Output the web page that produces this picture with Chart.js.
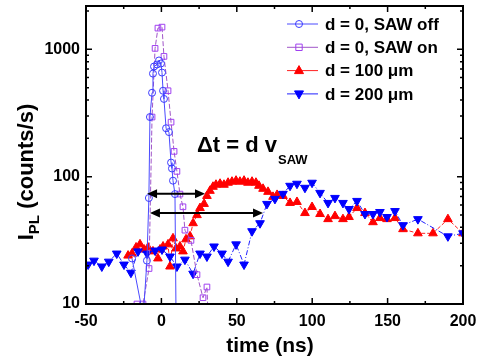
<!DOCTYPE html>
<html>
<head>
<meta charset="utf-8">
<script src="https://cdn.jsdelivr.net/npm/chart.js@4.4.0/dist/chart.umd.min.js"></script>
<style>
html, body { margin: 0; padding: 0; background: #fff; }
</style>
</head>
<body>
<canvas id="myChart" width="486" height="363"></canvas>
<script>
'use strict'
// values
let offTime = [-19.5, -12, -9.6, -8.3, -7.6, -6.2, -5.6, -4.9, -2.9, -1.6, -0.3, 0.4, 1.1, 1.7, 3.1, 5.0, 6.4, 7.0, 7.7, 9.0, 9.7];
let offCounts = [22.8, 8, 21.9, 68, 294, 456, 645, 733, 760, 818, 774, 657, 473, 408, 240, 224, 129, 116, 93, 73, 8];

let onTime = [-16.2, -12.2, -8.2, -6.2, -4.2, -2.3, 0.4, 1.7, 4.4, 6.4, 8.4, 10.3, 12.3, 14.3, 15.6, 19.6, 23.6, 27.6, 30.2, 30.8];
let onCounts = [10, 10, 19, 294, 1018, 1468, 1495, 880, 473, 268, 158, 110, 73, 58, 38, 31.6, 17, 11.2, 13.6, 9];

let redTime = [-22.1, -19.5, -16.8, -14.2, -11.5, -8.9, -5.6, -2.3, -0.9, 1.1, 4.4, 5.7, 7.7, 9.7, 12.3, 14.3, 16.3, 19.0, 21.0, 23.6,
  25.6, 28.3, 30.2, 32.2, 34.2, 36.2, 38.9, 41.5, 44.2, 46.8, 49.5, 52.1, 54.8, 57.4, 60.1, 62.7, 64.7, 67.4, 70.7, 74.0,
  76.7, 80.6, 85.3, 89.9, 95.2, 99.9, 105.2, 110.5, 115.1, 120.4, 124.4, 129.7, 135.0, 140.3, 144.9, 149.6, 154.9, 160.2, 170.1, 180.1,
  190.0, 200];
let redCounts = [24.0, 24.9, 27.8, 29.4, 26.8, 27.8, 25.9, 22.8, 26.8, 28.3, 29.4, 19.7, 32.8, 27.3, 28.3, 25.9, 32.2, 34.0, 43.1, 49.9,
  56.7, 61.1, 70.6, 77.4, 83.3, 86.4, 88.0, 86.4, 89.6, 91.3, 93.0, 91.3, 93.0, 89.6, 91.3, 89.6, 84.8, 80.3, 76.0, 69.4,
  71.9, 70.6, 62.2, 63.3, 51.8, 57.8, 50.9, 46.4, 49.0, 46.4, 48.2, 56.7, 51.8, 43.9, 47.3, 46.4, 47.3, 38.7, 35.9, 35.9,
  46.4, 35.9];

let blueTime = [-48.6, -44.7, -39.5, -34.9, -29.6, -24.8, -20.2, -15.5, -9.5, -4.2, 0.4, 5.7, 10.3, 15.6, 21.0, 25.6, 30.2, 34.9, 40.2, 44.2,
  49.5, 54.8, 60.1, 65.4, 70.0, 75.3, 80.6, 85.3, 89.9, 95.2, 99.9, 105.2, 110.5, 115.1, 120.4, 124.4, 129.7, 135.0, 140.3, 144.9,
  149.6, 154.9, 160.2, 170.1, 190.0, 200];
let blueCounts = [20.4, 21.9, 19.7, 21.5, 24.9, 20.4, 17.6, 25.9, 24.9, 26.3, 26.8, 23.6, 19.7, 22.3, 17.3, 24.9, 23.6, 28.3, 24.9, 21.5,
  29.4, 20.4, 37.3, 43.1, 61.1, 66.9, 73.3, 84.8, 88.0, 81.8, 89.6, 74.6, 62.2, 68.1, 62.2, 55.7, 64.5, 50.9, 50.9, 52.8,
  48.2, 53.7, 41.6, 46.4, 34.0, 35.9];

let seriesNames = ['d = 0, SAW off', 'd = 0, SAW on', 'd = 100 \u03bcm', 'd = 200 \u03bcm'];

let xMajor = [-50, 0, 50, 100, 150, 200];
let xMinor = [-25, 25, 75, 125, 175];
let yMajor = [10, 100, 1000];
let yMinor = [20, 30, 40, 50, 60, 70, 80, 90, 200, 300, 400, 500, 600, 700, 800, 900, 2000];

// the two delta-t arrows: [start time, end time, counts level]
let arrowShort = [-9.5, 28.9, 73.3];
let arrowLong = [-7.6, 67.4, 51.8];

const FONT = "'Liberation Sans', Arial, sans-serif";

function pts(t, v) {
  let out = [];
  for (let i = 0; i < t.length; i++) out.push({x: t[i], y: v[i]});
  return out;
}

let allSets = [
  {label: seriesNames[0], data: pts(offTime, offCounts), borderColor: '#4a4aff', pointBorderColor: '#3b3bff',
    pointBackgroundColor: 'rgba(0,0,0,0)', pointStyle: 'circle', pointRadius: 3.5, borderWidth: 1, pointBorderWidth: 1, borderDash: [], order: 0},
  {label: seriesNames[1], data: pts(onTime, onCounts), borderColor: '#a055c8', pointBorderColor: '#a040f0',
    pointBackgroundColor: 'rgba(0,0,0,0)', pointStyle: 'rect', pointRadius: 4, borderWidth: 1, pointBorderWidth: 1, borderDash: [5, 2], order: 1},
  {label: seriesNames[2], data: pts(redTime, redCounts), borderColor: '#ff2020', pointBorderColor: '#ff0000',
    pointBackgroundColor: '#ff0000', pointStyle: 'triangle', pointRadius: 5, borderWidth: 1, pointBorderWidth: 1, borderDash: [4, 2], order: 3},
  {label: seriesNames[3], data: pts(blueTime, blueCounts), borderColor: '#2020ff', pointBorderColor: '#0000ff',
    pointBackgroundColor: '#0000ff', pointStyle: 'triangle', pointRotation: 180, pointRadius: 5, borderWidth: 1, pointBorderWidth: 1, borderDash: [5, 2, 1, 2], order: 2}
];

function drawMarker(ctx, ds, x, y) {
  ctx.save();
  ctx.fillStyle = ds.pointBackgroundColor;
  ctx.strokeStyle = ds.pointBorderColor;
  ctx.lineWidth = 1;
  ctx.setLineDash([]);
  let r = ds.pointRadius;
  ctx.beginPath();
  if (ds.pointStyle === 'circle') {
    ctx.arc(x, y, r, 0, Math.PI * 2);
  } else if (ds.pointStyle === 'rect') {
    ctx.rect(x - r * 0.8, y - r * 0.8, r * 1.6, r * 1.6);
  } else {
    let s = ds.pointRotation ? -1 : 1;
    ctx.moveTo(x, y - s * r);
    ctx.lineTo(x + r * 0.9, y + s * r * 0.6);
    ctx.lineTo(x - r * 0.9, y + s * r * 0.6);
    ctx.closePath();
  }
  ctx.fill();
  ctx.stroke();
  ctx.restore();
}

function arrow(ctx, x1, x2, y) {
  ctx.beginPath();
  ctx.moveTo(x1 + 4, y);
  ctx.lineTo(x2 - 4, y);
  ctx.stroke();
  ctx.beginPath();
  ctx.moveTo(x1, y); ctx.lineTo(x1 + 10, y - 4.5); ctx.lineTo(x1 + 10, y + 4.5); ctx.closePath();
  ctx.moveTo(x2, y); ctx.lineTo(x2 - 10, y - 4.5); ctx.lineTo(x2 - 10, y + 4.5); ctx.closePath();
  ctx.fill();
}

const decor = {
  id: 'decor',
  afterDatasetsDraw(chart) {
    const ctx = chart.ctx;
    const a = chart.chartArea;
    const x = chart.scales.x;
    const y = chart.scales.y;
    ctx.save();
    ctx.strokeStyle = '#000';
    ctx.fillStyle = '#000';

    // arrows
    ctx.lineWidth = 2;
    arrow(ctx, x.getPixelForValue(arrowShort[0]), x.getPixelForValue(arrowShort[1]), y.getPixelForValue(arrowShort[2]));
    arrow(ctx, x.getPixelForValue(arrowLong[0]), x.getPixelForValue(arrowLong[1]), y.getPixelForValue(arrowLong[2]));

    // frame
    ctx.lineWidth = 2;
    ctx.strokeRect(a.left, a.top, a.right - a.left, a.bottom - a.top);

    // inward ticks
    ctx.lineWidth = 1.5;
    ctx.beginPath();
    xMajor.forEach(v => { let p = x.getPixelForValue(v); ctx.moveTo(p, a.bottom); ctx.lineTo(p, a.bottom - 6); ctx.moveTo(p, a.top); ctx.lineTo(p, a.top + 6); });
    xMinor.forEach(v => { let p = x.getPixelForValue(v); ctx.moveTo(p, a.bottom); ctx.lineTo(p, a.bottom - 3); ctx.moveTo(p, a.top); ctx.lineTo(p, a.top + 3); });
    yMajor.forEach(v => { let p = y.getPixelForValue(v); ctx.moveTo(a.left, p); ctx.lineTo(a.left + 6, p); ctx.moveTo(a.right, p); ctx.lineTo(a.right - 6, p); });
    yMinor.forEach(v => { let p = y.getPixelForValue(v); ctx.moveTo(a.left, p); ctx.lineTo(a.left + 3, p); ctx.moveTo(a.right, p); ctx.lineTo(a.right - 3, p); });
    ctx.stroke();

    // formula
    ctx.textBaseline = 'alphabetic';
    ctx.textAlign = 'left';
    ctx.font = 'bold 22px ' + FONT;
    ctx.fillText('\u0394t = d v', 197, 152);
    ctx.font = 'bold 13px ' + FONT;
    ctx.fillText('SAW', 278, 164);

    // legend
    ctx.font = 'bold 17px ' + FONT;
    ctx.textBaseline = 'middle';
    chart.data.datasets.forEach((ds, i) => {
      let ly = 24 + i * 23.3;
      ctx.save();
      ctx.strokeStyle = ds.borderColor;
      ctx.lineWidth = 1;
      ctx.beginPath();
      ctx.moveTo(287, ly); ctx.lineTo(318, ly);
      ctx.stroke();
      ctx.restore();
      drawMarker(ctx, ds, 299, ly);
      ctx.fillStyle = '#000';
      ctx.fillText(ds.label, 325, ly + 1);
    });

    // x title
    ctx.textAlign = 'center';
    ctx.textBaseline = 'alphabetic';
    ctx.font = 'bold 21px ' + FONT;
    ctx.fillText('time (ns)', 270, 352);

    // y title with subscript
    ctx.save();
    ctx.translate(33, 172);
    ctx.rotate(-Math.PI / 2);
    ctx.textAlign = 'left';
    let big = 'bold 22px ' + FONT, small = 'bold 15px ' + FONT;
    ctx.font = big; let w1 = ctx.measureText('I').width; let w3 = ctx.measureText(' (counts/s)').width;
    ctx.font = small; let w2 = ctx.measureText('PL').width;
    let sx = -(w1 + w2 + w3) / 2;
    ctx.font = big; ctx.fillText('I', sx, 0);
    ctx.font = small; ctx.fillText('PL', sx + w1, 6);
    ctx.font = big; ctx.fillText(' (counts/s)', sx + w1 + w2, 0);
    ctx.restore();

    ctx.restore();
  }
};

const ctx = document.getElementById('myChart');

new Chart(ctx, {
  type: 'line',
  data: {datasets: allSets},
  options: {
    responsive: false,
    animation: false,
    devicePixelRatio: 1,
    layout: {padding: {top: 1, right: 23, left: 0, bottom: 0}},
    plugins: {legend: {display: false}, tooltip: {enabled: false}},
    scales: {
      x: {
        type: 'linear', min: -50, max: 200,
        grid: {display: false, drawTicks: false},
        border: {display: false},
        ticks: {stepSize: 50, padding: 8, color: '#000', font: {family: FONT, size: 16, weight: 'bold'}},
        afterFit: s => { s.height = 59; s.paddingLeft = 0; s.paddingRight = 0; }
      },
      y: {
        type: 'logarithmic', min: 10, max: 2190,
        grid: {display: false, drawTicks: false},
        border: {display: false},
        ticks: {
          autoSkip: false, padding: 6, color: '#000', font: {family: FONT, size: 16, weight: 'bold'},
          callback: v => yMajor.includes(v) ? String(v) : ''
        },
        afterFit: s => { s.width = 86; s.paddingTop = 0; s.paddingBottom = 0; }
      }
    }
  },
  plugins: [decor]
});
</script>
</body>
</html>
